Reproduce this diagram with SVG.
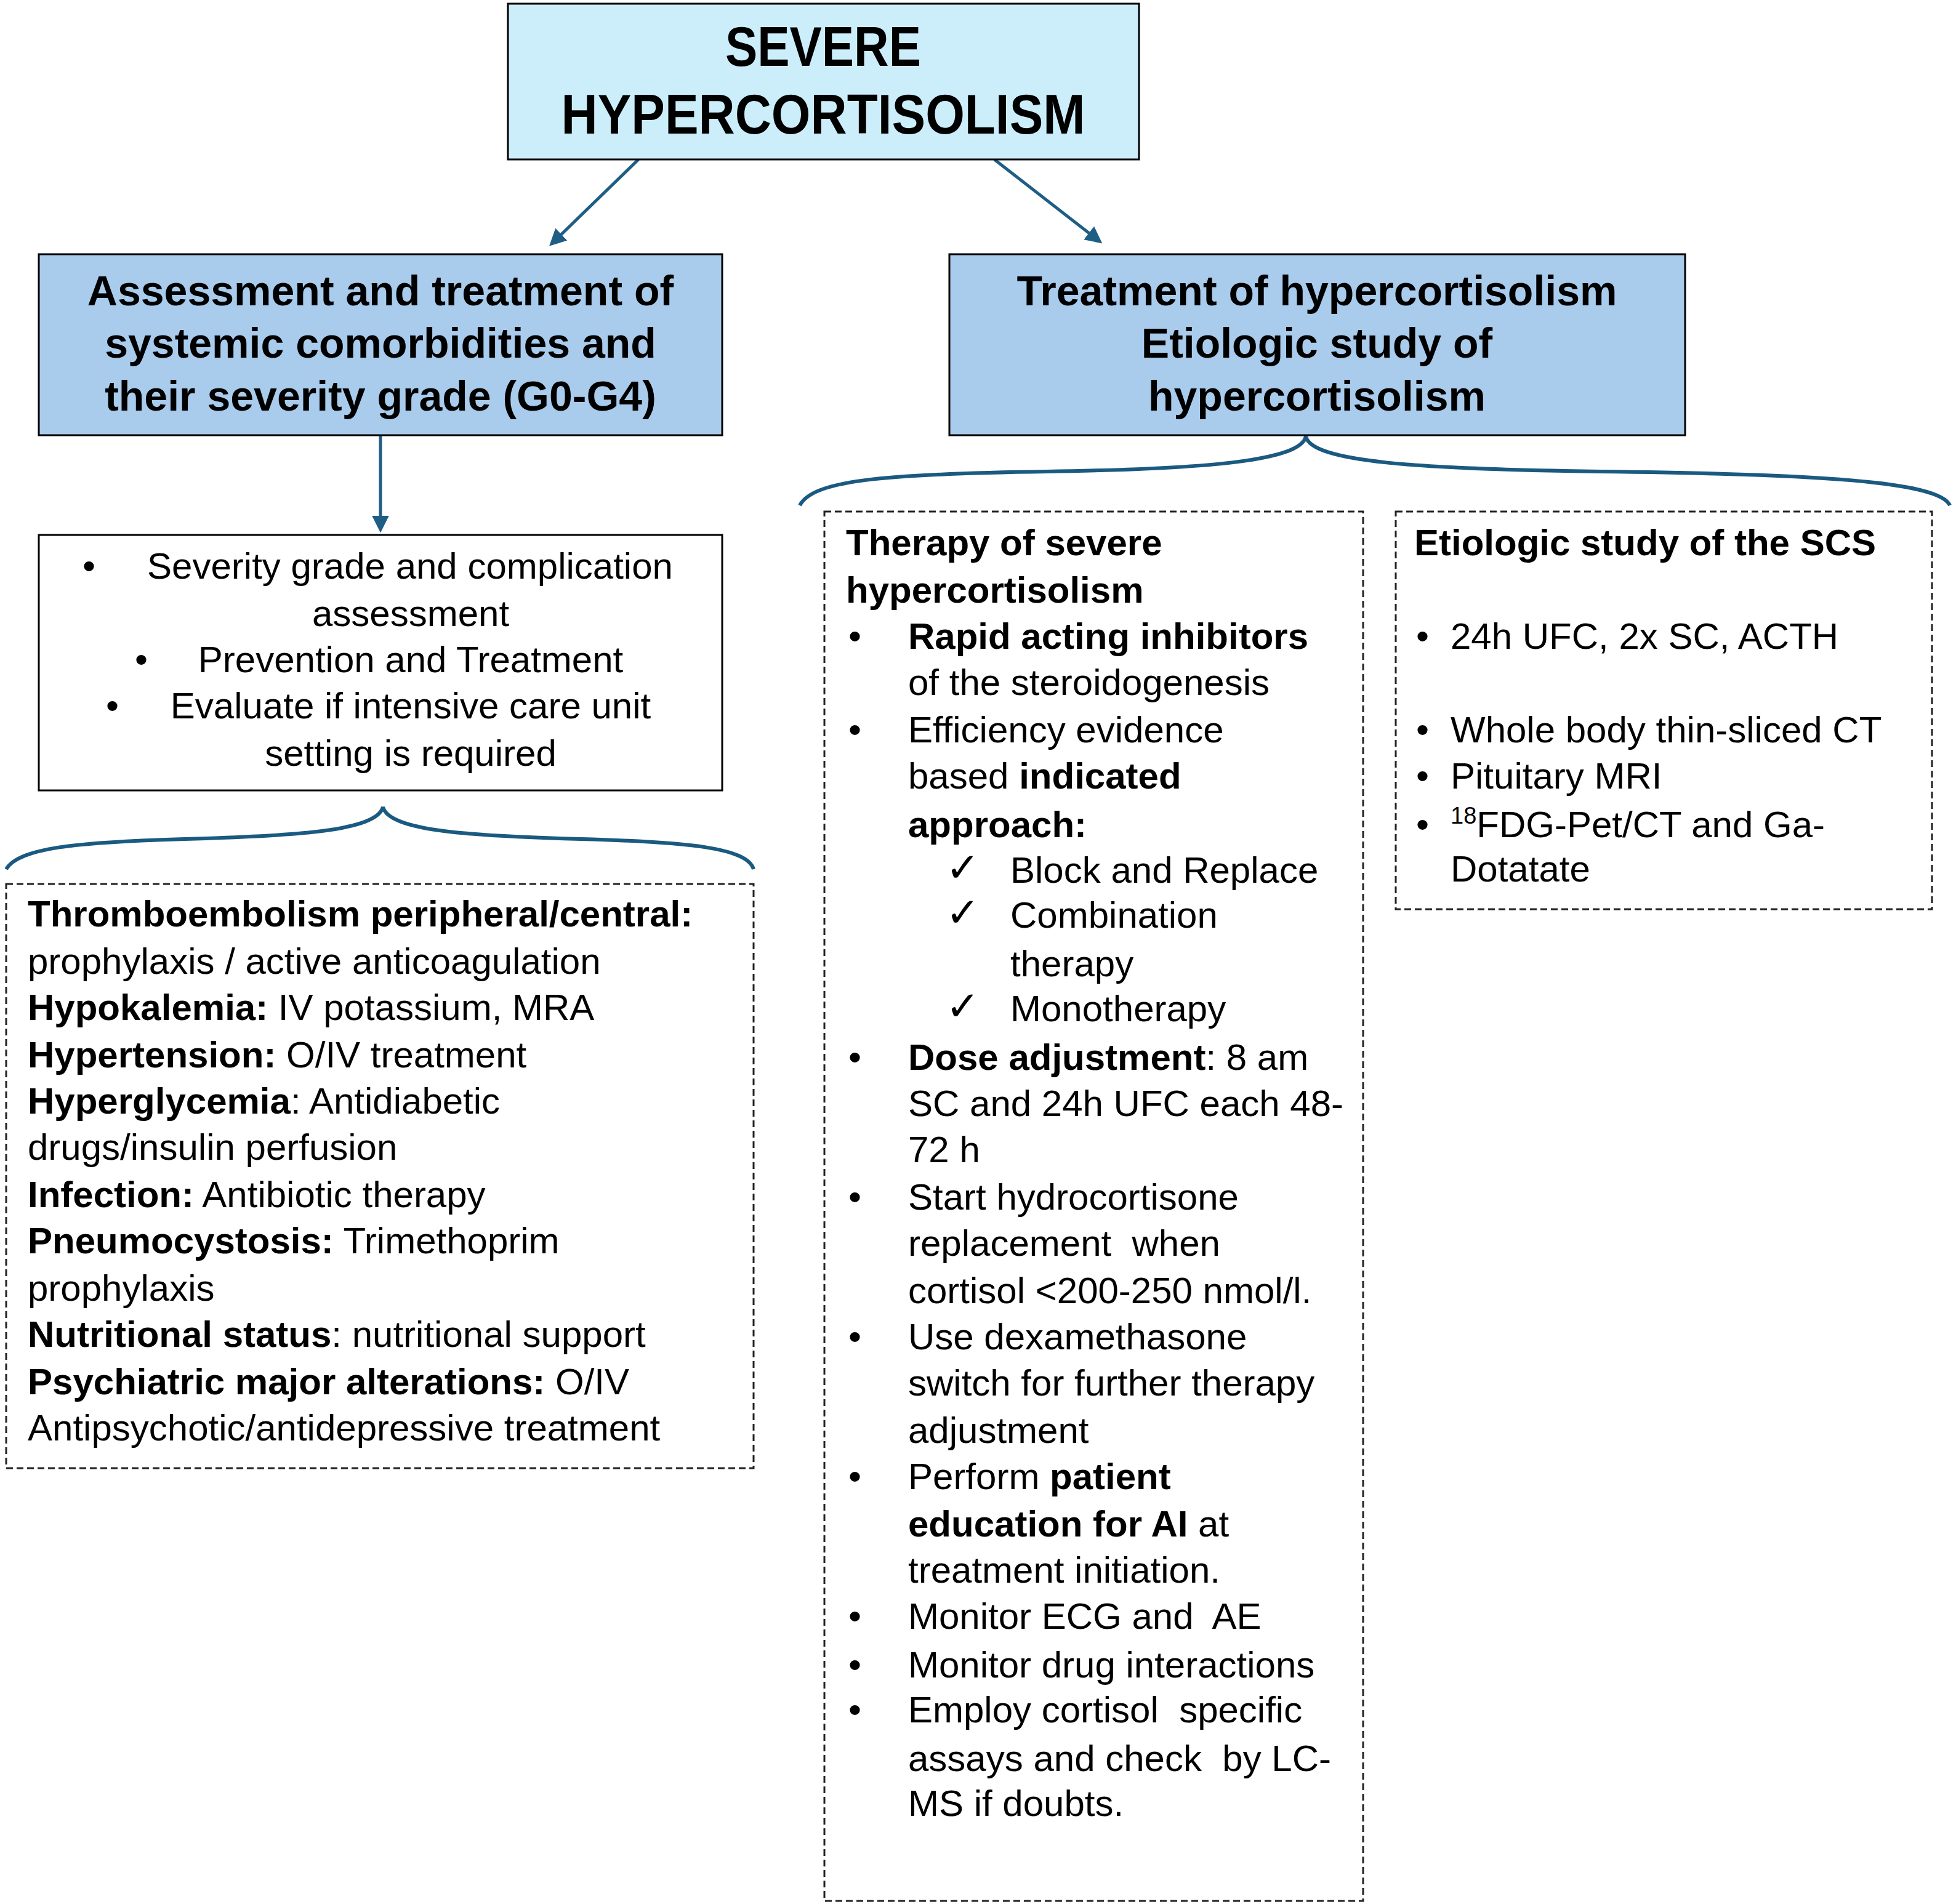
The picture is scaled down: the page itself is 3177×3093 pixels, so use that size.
<svg xmlns="http://www.w3.org/2000/svg" width="3177" height="3093" viewBox="0 0 3177 3093">
<style>
.t{font-family:"Liberation Sans",Arial,sans-serif;font-size:60px;fill:#000}
.b{font-weight:bold}
.c{text-anchor:middle}
.h{font-family:"Liberation Sans",Arial,sans-serif;font-weight:bold;font-size:68px;text-anchor:middle;fill:#000}
.top{font-family:"Liberation Sans",Arial,sans-serif;font-weight:bold;font-size:90px;text-anchor:middle;fill:#000}
.ck{font-family:"DejaVu Sans",sans-serif;font-size:66px}
.dash{fill:#fff;stroke:#222;stroke-width:3;stroke-dasharray:11 6}
.solid{fill:#fff;stroke:#000;stroke-width:3}
.blue{fill:#A9CBEC;stroke:#000;stroke-width:3}
.conn{stroke:#1F5E84;stroke-width:5;fill:none}
.brace{stroke:#1B5A80;stroke-width:6;fill:none}
</style>
<defs>
<marker id="ah" viewBox="0 0 10 10" refX="8" refY="5" markerWidth="5.5" markerHeight="5.5" orient="auto" markerUnits="strokeWidth">
<path d="M0,0 L10,5 L0,10 z" fill="#1F5E84"/>
</marker>
</defs>
<rect width="3177" height="3093" fill="#fff"/>

<g id="connectors">
<line class="conn" x1="1037" y1="259" x2="896" y2="396" marker-end="url(#ah)"/>
<line class="conn" x1="1615" y1="259" x2="1786" y2="392" marker-end="url(#ah)"/>
<line class="conn" x1="618" y1="707" x2="618" y2="860" marker-end="url(#ah)"/>
<path class="brace" d="M10,1412 C30,1378 120,1368 300,1363 C480,1358 612,1350 622,1311 C632,1350 764,1358 944,1363 C1124,1368 1214,1378 1224,1412"/>
<path class="brace" d="M1299,821 C1320,782 1420,770 1700,766 C1950,762 2112,750 2121,709 C2130,750 2300,762 2600,766 C2950,770 3150,782 3167,821"/>
</g>

<g id="node-top">
<rect x="825" y="6" width="1025" height="253" fill="#CCEEFB" stroke="#000" stroke-width="3"/>
<text class="top" x="1337" y="107" textLength="318" lengthAdjust="spacingAndGlyphs">SEVERE</text>
<text class="top" x="1337" y="217" textLength="851" lengthAdjust="spacingAndGlyphs">HYPERCORTISOLISM</text>
</g>

<g id="node-assessment">
<rect class="blue" x="63" y="413" width="1110" height="294"/>
<text class="h" x="618" y="496">Assessment and treatment of</text>
<text class="h" x="618" y="581">systemic comorbidities and</text>
<text class="h" x="618" y="667">their severity grade (G0-G4)</text>
</g>

<g id="node-treatment">
<rect class="blue" x="1542" y="413" width="1195" height="294"/>
<text class="h" x="2139" y="496">Treatment of hypercortisolism</text>
<text class="h" x="2139" y="581">Etiologic study of</text>
<text class="h" x="2139" y="667">hypercortisolism</text>
</g>

<g id="node-severity">
<rect class="solid" x="63" y="869" width="1110" height="415"/>
<text class="t" x="134" y="940">•</text>
<text class="t c" x="666" y="940">Severity grade and complication</text>
<text class="t c" x="667" y="1017">assessment</text>
<text class="t" x="219" y="1092">•</text>
<text class="t c" x="667" y="1092">Prevention and Treatment</text>
<text class="t" x="172" y="1167">•</text>
<text class="t c" x="667" y="1167">Evaluate if intensive care unit</text>
<text class="t c" x="667" y="1244">setting is required</text>
</g>

<g id="node-comorbidities">
<rect class="dash" x="10" y="1436" width="1214" height="949"/>
<text class="t" x="45" y="1505"><tspan class="b">Thromboembolism peripheral/central:</tspan></text>
<text class="t" x="45" y="1582">prophylaxis / active anticoagulation</text>
<text class="t" x="45" y="1657"><tspan class="b">Hypokalemia:</tspan> IV potassium, MRA</text>
<text class="t" x="45" y="1734"><tspan class="b">Hypertension:</tspan> O/IV treatment</text>
<text class="t" x="45" y="1809"><tspan class="b">Hyperglycemia</tspan>: Antidiabetic</text>
<text class="t" x="45" y="1884">drugs/insulin perfusion</text>
<text class="t" x="45" y="1961"><tspan class="b">Infection:</tspan> Antibiotic therapy</text>
<text class="t" x="45" y="2036"><tspan class="b">Pneumocystosis:</tspan> Trimethoprim</text>
<text class="t" x="45" y="2113">prophylaxis</text>
<text class="t" x="45" y="2188"><tspan class="b">Nutritional status</tspan>: nutritional support</text>
<text class="t" x="45" y="2265"><tspan class="b">Psychiatric major alterations:</tspan> O/IV</text>
<text class="t" x="45" y="2340">Antipsychotic/antidepressive treatment</text>
</g>

<g id="node-therapy">
<rect class="dash" x="1339" y="831" width="875" height="2257"/>
<text class="t b" x="1374" y="902">Therapy of severe</text>
<text class="t b" x="1374" y="979">hypercortisolism</text>
<text class="t" x="1378" y="1054">•</text>
<text class="t" x="1475" y="1054"><tspan class="b">Rapid acting inhibitors</tspan></text>
<text class="t" x="1475" y="1129">of the steroidogenesis</text>
<text class="t" x="1378" y="1206">•</text>
<text class="t" x="1475" y="1206">Efficiency evidence</text>
<text class="t" x="1475" y="1281">based <tspan class="b">indicated</tspan></text>
<text class="t b" x="1475" y="1360">approach:</text>
<text class="t ck" x="1536" y="1432">✓</text>
<text class="t" x="1641" y="1434">Block and Replace</text>
<text class="t ck" x="1536" y="1505">✓</text>
<text class="t" x="1641" y="1507">Combination</text>
<text class="t" x="1641" y="1586">therapy</text>
<text class="t ck" x="1536" y="1657">✓</text>
<text class="t" x="1641" y="1659">Monotherapy</text>
<text class="t" x="1378" y="1738">•</text>
<text class="t" x="1475" y="1738"><tspan class="b">Dose adjustment</tspan>: 8 am</text>
<text class="t" x="1475" y="1813">SC and 24h UFC each 48-</text>
<text class="t" x="1475" y="1888">72 h</text>
<text class="t" x="1378" y="1965">•</text>
<text class="t" x="1475" y="1965">Start hydrocortisone</text>
<text class="t" x="1475" y="2040" xml:space="preserve">replacement  when</text>
<text class="t" x="1475" y="2117">cortisol &lt;200-250 nmol/l.</text>
<text class="t" x="1378" y="2192">•</text>
<text class="t" x="1475" y="2192">Use dexamethasone</text>
<text class="t" x="1475" y="2267">switch for further therapy</text>
<text class="t" x="1475" y="2344">adjustment</text>
<text class="t" x="1378" y="2419">•</text>
<text class="t" x="1475" y="2419">Perform <tspan class="b">patient</tspan></text>
<text class="t" x="1475" y="2496"><tspan class="b">education for AI</tspan> at</text>
<text class="t" x="1475" y="2571">treatment initiation.</text>
<text class="t" x="1378" y="2646">•</text>
<text class="t" x="1475" y="2646" xml:space="preserve">Monitor ECG and  AE</text>
<text class="t" x="1378" y="2725">•</text>
<text class="t" x="1475" y="2725">Monitor drug interactions</text>
<text class="t" x="1378" y="2798">•</text>
<text class="t" x="1475" y="2798" xml:space="preserve">Employ cortisol  specific</text>
<text class="t" x="1475" y="2877" xml:space="preserve">assays and check  by LC-</text>
<text class="t" x="1475" y="2950">MS if doubts.</text>
</g>

<g id="node-etiologic">
<rect class="dash" x="2267" y="831" width="871" height="646"/>
<text class="t b" x="2297" y="902">Etiologic study of the SCS</text>
<text class="t" x="2300" y="1054">•</text>
<text class="t" x="2356" y="1054">24h UFC, 2x SC, ACTH</text>
<text class="t" x="2300" y="1206">•</text>
<text class="t" x="2356" y="1206">Whole body thin-sliced CT</text>
<text class="t" x="2300" y="1281">•</text>
<text class="t" x="2356" y="1281">Pituitary MRI</text>
<text class="t" x="2300" y="1360">•</text>
<text class="t" x="2356" y="1360"><tspan font-size="38" dy="-22">18</tspan><tspan dy="22">FDG-Pet/CT and Ga-</tspan></text>
<text class="t" x="2356" y="1432">Dotatate</text>
</g>
</svg>
